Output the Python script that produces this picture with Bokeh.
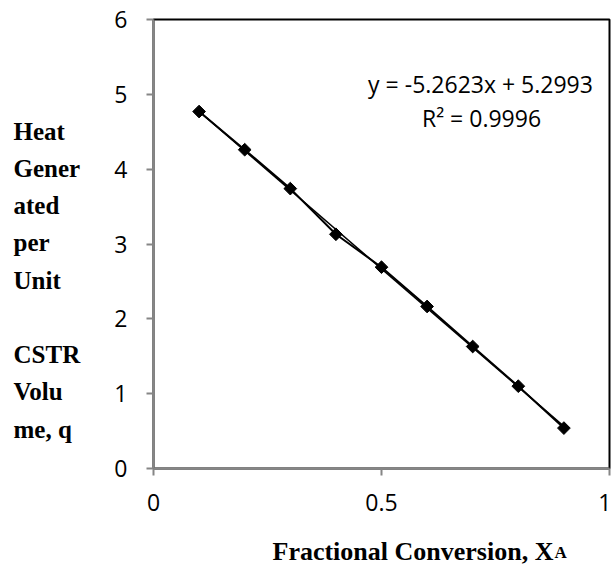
import math
from bokeh.plotting import figure
from bokeh.models import Range1d, Label, FixedTicker, NumeralTickFormatter
from bokeh.embed import file_html
from bokeh.resources import INLINE

# ---- data ----
x_conv = [0.1, 0.2, 0.3, 0.4, 0.5, 0.6, 0.7, 0.8, 0.9]
heat = [4.77, 4.26, 3.74, 3.13, 2.69, 2.165, 1.63, 1.10, 0.54]
trend_x = [0.1, 0.9]
trend_y = [4.773, 0.563]
x_ticks = [0, 0.5, 1]
y_ticks = [0, 1, 2, 3, 4, 5, 6]
y_label_lines = ["Heat", "Gener", "ated", "per", "Unit", "", "CSTR", "Volu", "me, q"]
equation_text = "y = -5.2623x + 5.2993"
r2_text = "R\u00b2 = 0.9996"
x_label_main = "Fractional Conversion, X"
x_label_sub = "A"

# frame geometry in page pixels (used only to place the free texts)
FL, FR, FT, FB = 153, 609, 19, 468
def dx(px):
    return (px - FL) / (FR - FL) * 1.0
def dy(py):
    return (FB - py) / (FB - FT) * 6.0

p = figure(width=611, height=571, x_range=Range1d(0, 1), y_range=Range1d(0, 6),
           output_backend="svg", toolbar_location=None,
           min_border_left=153, min_border_right=2, min_border_top=19, min_border_bottom=103)

p.grid.visible = False
p.outline_line_color = "black"
p.outline_line_width = 2

p.xaxis.ticker = FixedTicker(ticks=x_ticks)
p.yaxis.ticker = FixedTicker(ticks=y_ticks)
p.xaxis.formatter = NumeralTickFormatter(format="0.[0]")
for ax in (p.xaxis[0], p.yaxis[0]):
    ax.axis_line_color = "#868686"
    ax.axis_line_width = 2
    ax.major_tick_line_color = "#868686"
    ax.major_tick_line_width = 2
    ax.major_tick_in = 0
    ax.major_tick_out = 7
    ax.minor_tick_line_color = None
    ax.major_label_text_font = "Open Sans"
    ax.major_label_text_font_size = "23px"
    ax.major_label_text_color = "black"
p.yaxis.major_label_standoff = 19
p.xaxis.major_label_standoff = 18

p.line(trend_x, trend_y, line_color="black", line_width=1.5)
p.line(x_conv, heat, line_color="black", line_width=2)
p.scatter(x_conv, heat, marker="square", size=9, angle=math.pi / 4, color="black")

p.add_layout(Label(x=dx(480), y=dy(83), text=equation_text, text_align="center",
                   text_baseline="middle", text_font="Open Sans", text_font_size="23px",
                   text_color="black"))
p.add_layout(Label(x=dx(481), y=dy(117), text=r2_text, text_align="center",
                   text_baseline="middle", text_font="Open Sans", text_font_size="23px",
                   text_color="black"))

# y-axis title (multi-line, left-aligned), placed in the left panel so it is not clipped
p.add_layout(Label(x=dx(13), y=dy(117), text="\n".join(y_label_lines), text_align="left",
                   text_baseline="top", text_font="Liberation Serif",
                   text_font_style="bold", text_font_size="25px", text_line_height=1.38,
                   text_color="black"), "left")

# x-axis title with subscript
p.add_layout(Label(x=dx(272), y=dy(551), text=x_label_main, text_align="left",
                   text_baseline="alphabetic", text_font="Liberation Serif",
                   text_font_style="bold", text_font_size="26px", text_color="black"), "below")
p.add_layout(Label(x=dx(554), y=dy(552), text=x_label_sub, text_align="left",
                   text_baseline="alphabetic", text_font="Liberation Serif",
                   text_font_style="bold", text_font_size="17px", text_color="black"), "left")

open("out.html", "w").write(file_html(p, INLINE))
